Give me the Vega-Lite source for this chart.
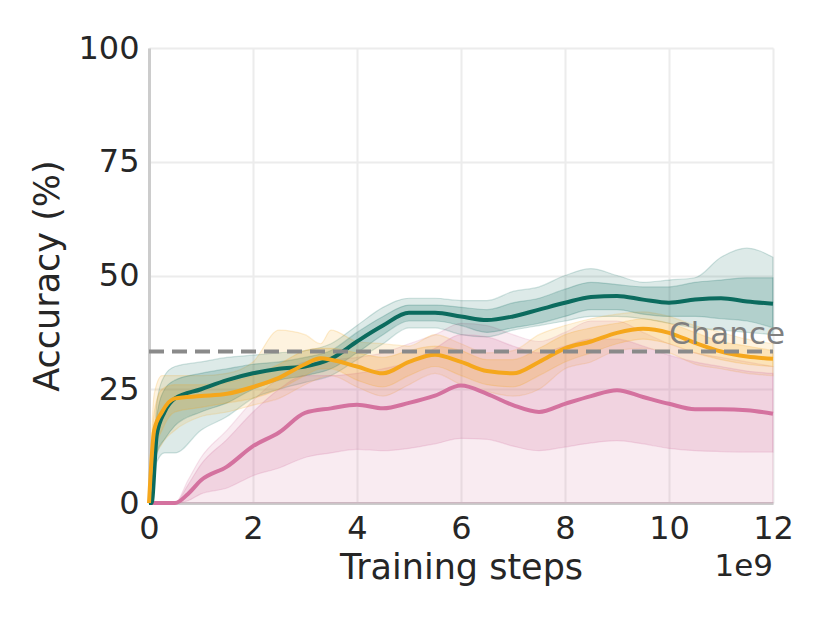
{
  "$schema": "https://vega.github.io/schema/vega-lite/v6.json",
  "width": 624,
  "height": 455,
  "autosize": "none",
  "padding": {"left": 149, "top": 48, "right": 57, "bottom": 120},
  "background": "white",
  "datasets": {
    "runs": [
      {"s": "p", "x": 0, "m": 0, "l1": 0, "h1": 0, "l2": 0, "h2": 0},
      {"s": "p", "x": 0.5, "m": 0, "l1": 0, "h1": 0, "l2": 0, "h2": 0},
      {"s": "p", "x": 0.75, "m": 2, "l1": 0.5, "h1": 4, "l2": 0, "h2": 5},
      {"s": "p", "x": 1, "m": 5, "l1": 2, "h1": 8.5, "l2": 0, "h2": 10},
      {"s": "p", "x": 1.5, "m": 8, "l1": 3.3, "h1": 14, "l2": 0, "h2": 16},
      {"s": "p", "x": 2, "m": 12.5, "l1": 6, "h1": 20, "l2": 0, "h2": 22.5},
      {"s": "p", "x": 2.5, "m": 15.5, "l1": 7.7, "h1": 25, "l2": 0, "h2": 27.5},
      {"s": "p", "x": 3, "m": 19.8, "l1": 10, "h1": 28, "l2": 0, "h2": 31},
      {"s": "p", "x": 3.5, "m": 20.8, "l1": 11, "h1": 28, "l2": 0, "h2": 31.5},
      {"s": "p", "x": 4, "m": 21.6, "l1": 11.8, "h1": 28.5, "l2": 0, "h2": 32},
      {"s": "p", "x": 4.5, "m": 20.8, "l1": 11.5, "h1": 29.5, "l2": 0, "h2": 33},
      {"s": "p", "x": 5, "m": 22, "l1": 12, "h1": 31, "l2": 0, "h2": 35},
      {"s": "p", "x": 5.5, "m": 23.6, "l1": 13, "h1": 34, "l2": 0, "h2": 37},
      {"s": "p", "x": 6, "m": 25.8, "l1": 14.2, "h1": 37, "l2": 0, "h2": 39.5},
      {"s": "p", "x": 6.5, "m": 24, "l1": 14, "h1": 36.5, "l2": 0, "h2": 39},
      {"s": "p", "x": 7, "m": 21.5, "l1": 12.5, "h1": 34.5, "l2": 0, "h2": 37},
      {"s": "p", "x": 7.5, "m": 20, "l1": 11.5, "h1": 33, "l2": 0, "h2": 35.5},
      {"s": "p", "x": 8, "m": 21.8, "l1": 12.3, "h1": 34.5, "l2": 0, "h2": 37.5},
      {"s": "p", "x": 8.5, "m": 23.5, "l1": 13.2, "h1": 36, "l2": 0, "h2": 40},
      {"s": "p", "x": 9, "m": 24.8, "l1": 13.7, "h1": 36, "l2": 0, "h2": 40},
      {"s": "p", "x": 9.5, "m": 23.3, "l1": 13, "h1": 34.5, "l2": 0, "h2": 37.5},
      {"s": "p", "x": 10, "m": 21.8, "l1": 12, "h1": 32.5, "l2": 0, "h2": 35},
      {"s": "p", "x": 10.5, "m": 20.6, "l1": 11.5, "h1": 31, "l2": 0, "h2": 33},
      {"s": "p", "x": 11, "m": 20.6, "l1": 11.3, "h1": 30, "l2": 0, "h2": 32},
      {"s": "p", "x": 11.5, "m": 20.4, "l1": 11.2, "h1": 29, "l2": 0, "h2": 31},
      {"s": "p", "x": 12, "m": 19.6, "l1": 11.2, "h1": 28.5, "l2": 0, "h2": 30},

      {"s": "t", "x": 0, "m": 0, "l1": 0, "h1": 0, "l2": 0, "h2": 0},
      {"s": "t", "x": 0.05, "m": 0, "l1": 0, "h1": 0, "l2": 0, "h2": 0},
      {"s": "t", "x": 0.15, "m": 15, "l1": 11, "h1": 19, "l2": 9, "h2": 22},
      {"s": "t", "x": 0.3, "m": 20, "l1": 14, "h1": 25, "l2": 11, "h2": 28},
      {"s": "t", "x": 0.5, "m": 23, "l1": 17, "h1": 27, "l2": 11, "h2": 30},
      {"s": "t", "x": 1, "m": 25, "l1": 20, "h1": 28.5, "l2": 16, "h2": 31},
      {"s": "t", "x": 1.5, "m": 27, "l1": 22, "h1": 29.5, "l2": 19, "h2": 32},
      {"s": "t", "x": 2, "m": 28.5, "l1": 25, "h1": 30.5, "l2": 23, "h2": 32.5},
      {"s": "t", "x": 2.5, "m": 29.5, "l1": 27, "h1": 31, "l2": 25, "h2": 33},
      {"s": "t", "x": 3, "m": 30, "l1": 28, "h1": 32, "l2": 26.5, "h2": 33.5},
      {"s": "t", "x": 3.5, "m": 31.7, "l1": 29.5, "h1": 33.5, "l2": 28, "h2": 35},
      {"s": "t", "x": 4, "m": 35.5, "l1": 33, "h1": 37.5, "l2": 31.5, "h2": 39},
      {"s": "t", "x": 4.5, "m": 39, "l1": 37, "h1": 41, "l2": 35, "h2": 43},
      {"s": "t", "x": 5, "m": 41.8, "l1": 40, "h1": 43.5, "l2": 38.5, "h2": 45},
      {"s": "t", "x": 5.5, "m": 41.8, "l1": 40, "h1": 43.5, "l2": 38.5, "h2": 45},
      {"s": "t", "x": 6, "m": 41, "l1": 39, "h1": 43, "l2": 37, "h2": 44.5},
      {"s": "t", "x": 6.5, "m": 40.2, "l1": 37.5, "h1": 42.5, "l2": 36.5, "h2": 44.5},
      {"s": "t", "x": 7, "m": 41, "l1": 38.5, "h1": 44, "l2": 38, "h2": 46.5},
      {"s": "t", "x": 7.5, "m": 42.5, "l1": 39.5, "h1": 45, "l2": 39, "h2": 47.5},
      {"s": "t", "x": 8, "m": 44, "l1": 41, "h1": 47, "l2": 40, "h2": 50},
      {"s": "t", "x": 8.5, "m": 45.3, "l1": 42.5, "h1": 48.5, "l2": 41, "h2": 51.5},
      {"s": "t", "x": 9, "m": 45.5, "l1": 42.5, "h1": 48, "l2": 41, "h2": 50},
      {"s": "t", "x": 9.5, "m": 44.7, "l1": 41.5, "h1": 47.5, "l2": 40.5, "h2": 48.5},
      {"s": "t", "x": 10, "m": 44, "l1": 41, "h1": 47.5, "l2": 39.5, "h2": 49},
      {"s": "t", "x": 10.5, "m": 44.7, "l1": 41, "h1": 48.5, "l2": 38.5, "h2": 49.5},
      {"s": "t", "x": 11, "m": 45, "l1": 40.5, "h1": 49, "l2": 38, "h2": 54},
      {"s": "t", "x": 11.5, "m": 44.3, "l1": 40, "h1": 49.5, "l2": 37.5, "h2": 56},
      {"s": "t", "x": 12, "m": 43.8, "l1": 38.5, "h1": 49.5, "l2": 37, "h2": 54},

      {"s": "o", "x": 0, "m": 0, "l1": 0, "h1": 0, "l2": 0, "h2": 0},
      {"s": "o", "x": 0.1, "m": 16, "l1": 11, "h1": 20, "l2": 9, "h2": 24},
      {"s": "o", "x": 0.25, "m": 20, "l1": 16, "h1": 25, "l2": 13, "h2": 28},
      {"s": "o", "x": 0.5, "m": 23, "l1": 20, "h1": 26, "l2": 16, "h2": 28},
      {"s": "o", "x": 1, "m": 23.5, "l1": 21, "h1": 26, "l2": 19, "h2": 28},
      {"s": "o", "x": 1.5, "m": 24, "l1": 22, "h1": 26.5, "l2": 20, "h2": 28.5},
      {"s": "o", "x": 2, "m": 25.5, "l1": 23, "h1": 28, "l2": 21.5, "h2": 31},
      {"s": "o", "x": 2.5, "m": 27.5, "l1": 25, "h1": 30.5, "l2": 23, "h2": 38},
      {"s": "o", "x": 3, "m": 30.5, "l1": 28, "h1": 33.5, "l2": 26, "h2": 37},
      {"s": "o", "x": 3.3, "m": 31.8, "l1": 29.5, "h1": 34, "l2": 27.5, "h2": 35},
      {"s": "o", "x": 3.5, "m": 31.5, "l1": 29.5, "h1": 34, "l2": 28, "h2": 38},
      {"s": "o", "x": 4, "m": 30, "l1": 27, "h1": 33, "l2": 25.5, "h2": 35.5},
      {"s": "o", "x": 4.5, "m": 28.5, "l1": 25.5, "h1": 32, "l2": 23.5, "h2": 35},
      {"s": "o", "x": 5, "m": 31, "l1": 28, "h1": 33.5, "l2": 26, "h2": 34.5},
      {"s": "o", "x": 5.5, "m": 32.6, "l1": 30, "h1": 34.5, "l2": 28.5, "h2": 37},
      {"s": "o", "x": 6, "m": 31, "l1": 28, "h1": 33.5, "l2": 26, "h2": 35},
      {"s": "o", "x": 6.5, "m": 29, "l1": 26, "h1": 31.5, "l2": 24.5, "h2": 33},
      {"s": "o", "x": 7, "m": 28.5, "l1": 25.5, "h1": 31.5, "l2": 23.5, "h2": 33.5},
      {"s": "o", "x": 7.5, "m": 31, "l1": 28, "h1": 34, "l2": 25, "h2": 37},
      {"s": "o", "x": 8, "m": 34, "l1": 31, "h1": 37, "l2": 29.5, "h2": 39},
      {"s": "o", "x": 8.5, "m": 35.5, "l1": 33, "h1": 38.5, "l2": 31, "h2": 40.5},
      {"s": "o", "x": 9, "m": 37.4, "l1": 35, "h1": 39.5, "l2": 33.5, "h2": 41.5},
      {"s": "o", "x": 9.5, "m": 38.3, "l1": 36, "h1": 40.5, "l2": 34, "h2": 42},
      {"s": "o", "x": 10, "m": 37.4, "l1": 35, "h1": 39.5, "l2": 33, "h2": 41},
      {"s": "o", "x": 10.5, "m": 35.2, "l1": 33, "h1": 37.5, "l2": 30.5, "h2": 39},
      {"s": "o", "x": 11, "m": 33.3, "l1": 31.5, "h1": 35.5, "l2": 29.5, "h2": 37.5},
      {"s": "o", "x": 11.5, "m": 32.2, "l1": 30.5, "h1": 34.5, "l2": 28.5, "h2": 36},
      {"s": "o", "x": 12, "m": 31.7, "l1": 30, "h1": 33.5, "l2": 28, "h2": 35}
    ],
    "notes": [
      {"label": "Chance", "x": 10, "y": 35}
    ]
  },
  "layer": [
    {
      "data": {"name": "runs"},
      "mark": {"type": "area", "interpolate": "monotone", "fillOpacity": 0.14, "strokeOpacity": 0.18, "strokeWidth": 1.2},
      "encoding": {
        "x": {
          "field": "x",
          "type": "quantitative",
          "scale": {"domain": [0, 12], "nice": false},
          "axis": {"values": [0, 2, 4, 6, 8, 10, 12], "title": "Training steps", "titlePadding": 6}
        },
        "y": {
          "field": "l2",
          "type": "quantitative",
          "scale": {"domain": [0, 100], "nice": false},
          "axis": {"values": [0, 25, 50, 75, 100], "title": "Accuracy (%)", "titlePadding": 12}
        },
        "y2": {"field": "h2"},
        "color": {
          "field": "s",
          "type": "nominal",
          "scale": {"domain": ["p", "t", "o"], "range": ["#d4729f", "#0b6b5e", "#f5a71c"]},
          "legend": null
        },
        "stroke": {"field": "s", "type": "nominal", "scale": {"domain": ["p", "t", "o"], "range": ["#d4729f", "#0b6b5e", "#f5a71c"]}, "legend": null}
      }
    },
    {
      "data": {"name": "runs"},
      "mark": {"type": "area", "interpolate": "monotone", "fillOpacity": 0.2, "strokeOpacity": 0.2, "strokeWidth": 1.2},
      "encoding": {
        "x": {"field": "x", "type": "quantitative"},
        "y": {"field": "l1", "type": "quantitative"},
        "y2": {"field": "h1"},
        "color": {"field": "s", "type": "nominal", "legend": null},
        "stroke": {"field": "s", "type": "nominal", "legend": null}
      }
    },
    {
      "data": {"name": "runs"},
      "mark": {"type": "line", "interpolate": "monotone", "strokeWidth": 4},
      "encoding": {
        "x": {"field": "x", "type": "quantitative"},
        "y": {"field": "m", "type": "quantitative"},
        "color": {"field": "s", "type": "nominal", "legend": null}
      }
    },
    {
      "data": {"name": "notes"},
      "mark": {"type": "rule", "color": "#8a8a8a", "strokeWidth": 4, "strokeDash": [15, 8]},
      "encoding": {"y": {"datum": 33.3}, "x": {"datum": 0}, "x2": {"datum": 12}}
    },
    {
      "data": {"name": "notes"},
      "mark": {"type": "text", "align": "left", "baseline": "alphabetic", "fontSize": 31, "color": "#7f7f7f", "font": "DejaVu Sans"},
      "encoding": {"x": {"field": "x", "type": "quantitative"}, "y": {"field": "y", "type": "quantitative"}, "text": {"field": "label"}}
    },
    {
      "data": {"name": "notes"},
      "mark": {"type": "text", "text": "1e9", "align": "right", "baseline": "alphabetic", "fontSize": 31, "color": "#262626", "font": "DejaVu Sans"},
      "encoding": {"x": {"datum": 12}, "y": {"datum": -16}}
    }
  ],
  "config": {
    "view": {"stroke": null},
    "font": "DejaVu Sans",
    "axis": {
      "grid": true,
      "gridColor": "#ececec",
      "gridWidth": 2,
      "domainColor": "#cccccc",
      "domainWidth": 3,
      "ticks": false,
      "labelFontSize": 32,
      "labelColor": "#262626",
      "labelPadding": 10,
      "labelFlush": false,
      "labelOverlap": false,
      "titleFontSize": 35,
      "titleFontWeight": "normal",
      "titleColor": "#262626"
    }
  }
}
